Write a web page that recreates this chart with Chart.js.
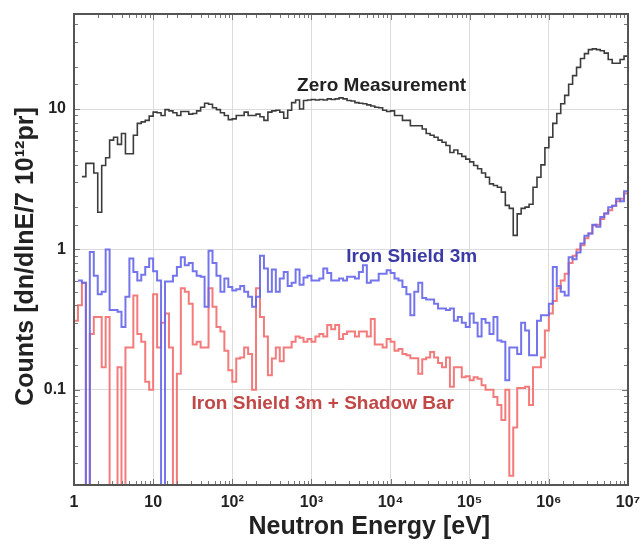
<!DOCTYPE html>
<html>
<head>
<meta charset="utf-8">
<script src="https://cdn.jsdelivr.net/npm/chart.js@4/dist/chart.umd.min.js"></script>
<style>
  html, body { margin: 0; padding: 0; background: #ffffff; }
  #wrap { width: 643px; height: 544px; }
</style>
</head>
<body>
<div id="wrap"><canvas id="c" width="643" height="544"></canvas></div>
<script>
// ---------------- data ----------------
// Histogram binning: log-spaced bins, 20 per decade, starting at 1 eV, 140 bins (1 eV .. 1e7 eV)
const binsPerDecade = 20;
const firstBinEdgeEv = 1;
const binCount = 140;

// Zero Measurement (black)
const zeroMeasurement = [
  null, null, 3.3, 4.1, 4.1, 3.5, 1.84, 3.96, 4.5, 6.0,
  6.3, 5.6, 6.7, 4.8, 4.8, 6.5, 7.9, 8.1, 8.3, 8.9,
  9.5, 9.4, 9.0, 9.9, 9.7, 9.4, 9.0, 9.6, 9.6, 9.2,
  9.3, 9.7, 10.3, 11.0, 10.8, 10.2, 9.9, 9.4, 9.0, 8.4,
  8.5, 9.0, 9.0, 9.5, 9.0, 9.0, 9.2, 8.8, 8.3, 9.5,
  9.7, 9.8, 9.5, 8.6, 9.8, 11.1, 11.6, 10.0, 11.5, 11.6,
  11.7, 11.6, 11.7, 11.6, 11.8, 11.7, 11.8, 12.0, 11.8, 11.5,
  11.4, 11.1, 11.0, 10.9, 10.7, 10.5, 10.3, 10.2, 9.8, 9.6,
  9.7, 9.0, 9.0, 8.3, 8.3, 7.6, 7.6, 7.6, 7.2, 6.7,
  6.5, 6.3, 6.0, 5.8, 5.5, 4.9, 5.1, 4.8, 4.6, 4.4,
  4.2, 3.96, 3.75, 3.5, 3.27, 2.93, 2.85, 2.77, 2.56, 2.06,
  1.96, 1.26, 1.79, 1.96, 2.0, 2.1, 2.77, 3.27, 4.0, 5.3,
  6.3, 7.9, 9.3, 10.9, 12.5, 15.0, 17.3, 19.8, 22.9, 24.8,
  26.5, 26.8, 26.5, 26.0, 25.0, 22.5, 21.2, 21.2, 22.5, 23.8
];

// Iron Shield 3m (blue); 0.001 = empty bin (below the plotted range)
const ironShield3m = [
  null, 0.6, 0.58, 0.001, 0.96, 0.65, 0.48, 0.5, 1.0, 0.37,
  0.37, 0.36, 0.28, 0.46, 0.86, 0.69, 0.6, 0.66, 0.75, 0.86,
  0.7, 0.6, 0.001, 0.59, 0.59, 0.65, 0.75, 0.88, 0.77, 0.8,
  0.7, 0.65, 0.64, 0.39, 0.98, 0.8, 0.65, 0.5, 0.62, 0.54,
  0.51, 0.52, 0.55, 0.5, 0.46, 0.39, 0.46, 0.9, 0.73, 0.5,
  0.72, 0.5, 0.62, 0.69, 0.55, 0.58, 0.72, 0.56, 0.63, 0.65,
  0.6, 0.6, 0.62, 0.73, 0.68, 0.6, 0.6, 0.62, 0.6, 0.64,
  0.64, 0.62, 0.69, 0.77, 0.58, 0.6, 0.6, 0.67, 0.67, 0.71,
  0.68, 0.62, 0.6, 0.54, 0.48, 0.34, 0.5, 0.58, 0.45, 0.44,
  0.44, 0.41, 0.38, 0.38, 0.37, 0.38, 0.31, 0.33, 0.3, 0.28,
  0.35, 0.3, 0.24, 0.32, 0.3, 0.25, 0.33, 0.225, 0.22, 0.117,
  0.2, 0.2, 0.18, 0.3, 0.265, 0.176, 0.176, 0.31, 0.34, 0.34,
  0.41, 0.75, 0.55, 0.5, 0.47, 0.88, 0.85, 0.95, 1.1, 1.25,
  1.3, 1.5, 1.45, 1.7, 1.8, 2.0, 2.05, 2.3, 2.2, 2.6
];

// Iron Shield 3m + Shadow Bar (red); 0.001 = empty bin (below the plotted range)
const ironShield3mShadowBar = [
  0.31, 0.4, 0.58, 0.001, 0.25, 0.33, 0.33, 0.145, 0.33, 0.001,
  0.001, 0.145, 0.001, 0.2, 0.2, 0.47, 0.25, 0.22, 0.114, 0.1,
  0.48, 0.2, 0.3, 0.35, 0.2, 0.001, 0.13, 0.53, 0.5, 0.41,
  0.21, 0.22, 0.2, 0.2, 0.53, 0.39, 0.28, 0.26, 0.19, 0.138,
  0.114, 0.167, 0.17, 0.2, 0.18, 0.1, 0.53, 0.33, 0.24, 0.127,
  0.167, 0.2, 0.16, 0.2, 0.2, 0.22, 0.24, 0.235, 0.22, 0.23,
  0.22, 0.24, 0.25, 0.24, 0.29, 0.27, 0.29, 0.23, 0.25, 0.26,
  0.26, 0.24, 0.26, 0.26, 0.24, 0.32, 0.21, 0.21, 0.2, 0.23,
  0.22, 0.19, 0.195, 0.18, 0.176, 0.168, 0.168, 0.13, 0.165, 0.17,
  0.186, 0.17, 0.155, 0.145, 0.17, 0.105, 0.145, 0.145, 0.123, 0.125,
  0.117, 0.123, 0.12, 0.108, 0.1, 0.1, 0.089, 0.078, 0.061, 0.1,
  0.0244, 0.054, 0.103, 0.103, 0.105, 0.078, 0.145, 0.145, 0.17, 0.265,
  0.35, 0.43, 0.53, 0.6, 0.67, 0.8, 0.9, 1.0, 1.07, 1.2,
  1.3, 1.48, 1.5, 1.65, 1.8, 1.9, 2.05, 2.2, 2.3, 2.5
];

// Axis ranges and tick labels
const xRange = [1, 1e7];
const yRange = [0.021, 47.5];
const xTickLabels = { 1: '1', 10: '10', 100: '10²', 1000: '10³', 10000: '10⁴', 100000: '10⁵', 1000000: '10⁶', 10000000: '10⁷' };
const yTickLabels = { 0.1: '0.1', 1: '1', 10: '10' };
const xTitle = 'Neutron Energy [eV]';
const yTitle = 'Counts [dn/dlnE/7 10¹²pr]';

// In-plot labels (anchored in data coordinates: energy, counts)
const seriesLabels = [
  { text: 'Zero Measurement', x: 7700, y: 14.7, color: '#222222' },
  { text: 'Iron Shield 3m', x: 18500, y: 0.89, color: '#3b3ba6' },
  { text: 'Iron Shield 3m + Shadow Bar', x: 1390, y: 0.080, color: '#c24848' }
];

// ---------------- build step-histogram points ----------------
const binEdges = [];
for (let i = 0; i <= binCount; i++) binEdges.push(firstBinEdgeEv * Math.pow(10, i / binsPerDecade));

function stepPoints(values) {
  const pts = [];
  let last = null;
  values.forEach((v, i) => {
    if (v === null) { if (pts.length) pts.push({ x: binEdges[i], y: null }); return; }
    pts.push({ x: binEdges[i], y: v });
    last = { x: binEdges[i + 1], y: v };
  });
  if (last) pts.push(last);
  return pts;
}

const FONT = '"Liberation Sans", Arial, Helvetica, sans-serif';

function isDecade(v) {
  const l = Math.log10(v);
  return Math.abs(l - Math.round(l)) < 1e-9;
}

// ---------------- plugins ----------------
const framePlugin = {
  id: 'frame',
  afterDatasetsDraw(chart) {
    const { ctx, chartArea: a, scales } = chart;
    ctx.save();
    // minor ticks pointing inwards on all four sides
    ctx.strokeStyle = '#777777';
    ctx.lineWidth = 1;
    scales.x.ticks.forEach(t => {
      const px = Math.round(scales.x.getPixelForValue(t.value)) + 0.5;
      if (px < a.left + 1 || px > a.right - 1) return;
      const len = isDecade(t.value) ? 6 : 4;
      ctx.beginPath();
      ctx.moveTo(px, a.bottom); ctx.lineTo(px, a.bottom - len);
      ctx.moveTo(px, a.top); ctx.lineTo(px, a.top + len);
      ctx.stroke();
    });
    scales.y.ticks.forEach(t => {
      const py = Math.round(scales.y.getPixelForValue(t.value)) + 0.5;
      if (py < a.top + 1 || py > a.bottom - 1) return;
      const len = isDecade(t.value) ? 6 : 4;
      ctx.beginPath();
      ctx.moveTo(a.left, py); ctx.lineTo(a.left + len, py);
      ctx.moveTo(a.right, py); ctx.lineTo(a.right - len, py);
      ctx.stroke();
    });
    // frame
    ctx.strokeStyle = '#555555';
    ctx.lineWidth = 2;
    ctx.strokeRect(a.left, a.top, a.right - a.left, a.bottom - a.top);
    // series labels
    ctx.font = 'bold 19px ' + FONT;
    ctx.textAlign = 'center';
    ctx.textBaseline = 'middle';
    seriesLabels.forEach(l => {
      ctx.fillStyle = l.color;
      ctx.fillText(l.text, scales.x.getPixelForValue(l.x), scales.y.getPixelForValue(l.y));
    });
    // axis titles
    ctx.fillStyle = '#222222';
    ctx.font = 'bold 25px ' + FONT;
    ctx.fillText(xTitle, a.left + (a.right - a.left) * 0.533, 527);
    ctx.translate(26, a.top + (a.bottom - a.top) * 0.515);
    ctx.rotate(-Math.PI / 2);
    ctx.fillText(yTitle, 0, 0);
    ctx.restore();
  }
};

// ---------------- chart ----------------
new Chart(document.getElementById('c'), {
  type: 'line',
  data: {
    datasets: [
      { label: 'Zero Measurement', data: stepPoints(zeroMeasurement), borderColor: '#3c3c3c', borderWidth: 1.6 },
      { label: 'Iron Shield 3m', data: stepPoints(ironShield3m), borderColor: 'rgba(104,104,236,0.92)', borderWidth: 2 },
      { label: 'Iron Shield 3m + Shadow Bar', data: stepPoints(ironShield3mShadowBar), borderColor: 'rgba(242,112,112,0.92)', borderWidth: 2 }
    ].map(d => Object.assign(d, { stepped: 'before', pointRadius: 0, fill: false, spanGaps: false, tension: 0 }))
  },
  options: {
    responsive: false,
    animation: false,
    devicePixelRatio: 1,
    layout: { padding: { top: 14, right: 15, bottom: 0, left: 0 } },
    plugins: { legend: { display: false }, tooltip: { enabled: false } },
    scales: {
      x: {
        type: 'logarithmic',
        min: xRange[0], max: xRange[1],
        afterFit: s => { s.height = 59; s.paddingLeft = 0; s.paddingRight = 0; },
        grid: {
          drawTicks: false,
          color: ctx => (ctx.tick && isDecade(ctx.tick.value)) ? '#dcdcdc' : 'rgba(0,0,0,0)',
          lineWidth: 1
        },
        border: { display: true, color: '#555555', width: 2 },
        ticks: {
          autoSkip: false, maxRotation: 0, minRotation: 0, padding: 8,
          color: '#222222', font: { family: FONT, size: 16, weight: 'bold' },
          callback: v => (isDecade(v) && xTickLabels[Math.round(v)] !== undefined) ? xTickLabels[Math.round(v)] : ''
        },
        title: { display: false }
      },
      y: {
        type: 'logarithmic',
        min: yRange[0], max: yRange[1],
        afterFit: s => { s.width = 74; s.paddingTop = 0; s.paddingBottom = 0; },
        grid: {
          drawTicks: false,
          color: ctx => (ctx.tick && isDecade(ctx.tick.value)) ? '#dcdcdc' : 'rgba(0,0,0,0)',
          lineWidth: 1
        },
        border: { display: true, color: '#555555', width: 2 },
        ticks: {
          autoSkip: false, padding: 8,
          color: '#222222', font: { family: FONT, size: 16, weight: 'bold' },
          callback: v => {
            if (!isDecade(v)) return '';
            const k = Object.keys(yTickLabels).find(key => Math.abs(Number(key) - v) < 1e-9 * Math.max(1, v));
            return k !== undefined ? yTickLabels[k] : '';
          }
        },
        title: { display: false }
      }
    }
  },
  plugins: [framePlugin]
});
</script>
</body>
</html>
